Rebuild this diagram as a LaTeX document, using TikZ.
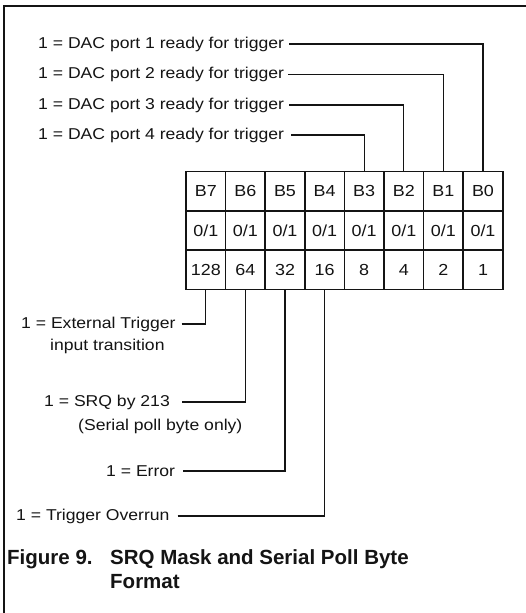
\documentclass[tikz,border=0pt]{standalone}
\usepackage{fontspec}
\newfontfamily\scanfont[FakeStretch=1.12]{Liberation Sans}
\newfontfamily\capfont{Liberation Sans}
\usepackage{tikz}
\definecolor{ink}{HTML}{141414}
\definecolor{paper}{HTML}{FFFFFF}
\tikzset{
  frameEdge/.style={draw=ink, line width=1.8pt},
  cellBox/.style={draw=ink, line width=1.5pt, minimum width=39.6pt, minimum height=39.2pt,
    inner sep=0pt, text=ink, font=\scanfont\fontsize{16}{18}\selectfont},
  wire/.style={draw=ink, line width=1.3pt},
  bitLbl/.style={anchor=west, inner sep=0pt, text=ink, font=\scanfont\fontsize{15.7}{18}\selectfont},
  capLbl/.style={anchor=west, inner sep=0pt, text=ink, font=\capfont\bfseries\fontsize{20.5}{24}\selectfont},
}
\newcommand{\ByteCells}{%
  \foreach \i in {0,...,7}{
    \pgfmathtruncatemacro{\w}{2^\i}
    \node[cellBox] (n\i) at ({483-39.6*\i},191.3) {B\i};
    \node[cellBox] (s\i) at ({483-39.6*\i},230.5) {0/1};
    \node[cellBox] (v\i) at ({483-39.6*\i},269.7) {\w};
  }
}

\begin{document}
\begin{tikzpicture}[x=1pt, y=-1pt]
  \useasboundingbox[fill=paper] (0,0) rectangle (526,613);
  \draw[frameEdge] (526,6) -- (4,6) -- (4,613);

  \ByteCells

  % ready-for-trigger bits
  \node[bitLbl] (p1) at (38,44)  {1 = DAC port 1 ready for trigger};
  \node[bitLbl] (p2) at (38,74.5) {1 = DAC port 2 ready for trigger};
  \node[bitLbl] (p3) at (38,105) {1 = DAC port 3 ready for trigger};
  \node[bitLbl] (p4) at (38,135) {1 = DAC port 4 ready for trigger};
  \draw[wire] ([xshift=5pt]p1.east) -| (n0.north);
  \draw[wire] ([xshift=4pt]p2.east) -| (n1.north);
  \draw[wire] ([xshift=5pt]p3.east) -| (n2.north);
  \draw[wire] ([xshift=7pt]p4.east) -| (n3.north);

  % status bits
  \node[bitLbl] (ext)  at (21,324)  {1 = External Trigger};
  \node[bitLbl] (ext2) at (50,346)  {input transition};
  \node[bitLbl] (srq)  at (44,402)  {1 = SRQ by 213};
  \node[bitLbl] (srq2) at (78,426)  {(Serial poll byte only)};
  \node[bitLbl] (err)  at (106,471) {1 = Error};
  \node[bitLbl] (ovr)  at (16,516)  {1 = Trigger Overrun};
  \draw[wire] ([xshift=6pt]ext.east) -| (v7.south);
  \draw[wire] ([xshift=12pt]srq.east) -| (v6.south);
  \draw[wire] ([xshift=8pt]err.east) -| (v5.south);
  \draw[wire] ([xshift=8pt]ovr.east) -| (v4.south);

  \node[capLbl] (fig)  at (7,559)   {Figure 9.};
  \node[capLbl] (cap1) at (110,559) {SRQ Mask and Serial Poll Byte};
  \node[capLbl] (cap2) at (110,582) {Format};
\end{tikzpicture}
\end{document}
